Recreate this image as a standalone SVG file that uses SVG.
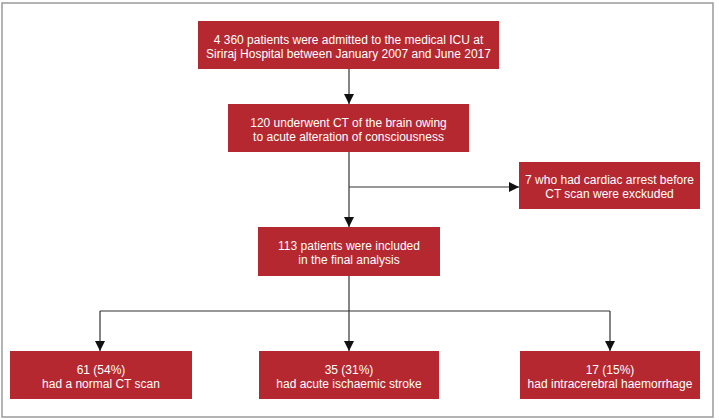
<svg xmlns="http://www.w3.org/2000/svg" width="719" height="420" viewBox="0 0 719 420">
<style>
.box{fill:#B5282F;}
.t{font-family:"Liberation Sans",Arial,sans-serif;font-size:12px;fill:#ffffff;text-anchor:middle;}
.c{stroke:#333333;stroke-width:1.2;fill:none;}
</style>
<defs>
<marker id="ah" markerWidth="10" markerHeight="10" refX="10" refY="5" orient="auto" markerUnits="userSpaceOnUse">
<path d="M0,0 L10,5 L0,10 Z" fill="#111111"/>
</marker>
</defs>
<rect x="2" y="3" width="711" height="414" fill="#ffffff" stroke="#9a9a9a" stroke-width="1.5"/>
<g id="connectors">
<line class="c" x1="349" y1="69" x2="349" y2="104" marker-end="url(#ah)"/>
<line class="c" x1="349" y1="152" x2="349" y2="227" marker-end="url(#ah)"/>
<line class="c" x1="349" y1="187" x2="519" y2="187" marker-end="url(#ah)"/>
<line class="c" x1="349" y1="276" x2="349" y2="311"/>
<line class="c" x1="100" y1="311" x2="610" y2="311"/>
<line class="c" x1="100" y1="311" x2="100" y2="351" marker-end="url(#ah)"/>
<line class="c" x1="349" y1="311" x2="349" y2="351" marker-end="url(#ah)"/>
<line class="c" x1="610" y1="311" x2="610" y2="351" marker-end="url(#ah)"/>
</g>
<g id="admitted">
<rect class="box" x="198" y="21" width="301" height="48"/>
<text class="t" x="348.5" y="43.5">4 360 patients were admitted to the medical ICU at</text>
<text class="t" x="348.5" y="57.5">Siriraj Hospital between January 2007 and June 2017</text>
</g>
<g id="ct">
<rect class="box" x="228" y="104" width="241" height="48"/>
<text class="t" x="348.5" y="126.5">120 underwent CT of the brain owing</text>
<text class="t" x="348.5" y="140.5">to acute alteration of consciousness</text>
</g>
<g id="excluded">
<rect class="box" x="519" y="162" width="181" height="47"/>
<text class="t" x="609.5" y="184">7 who had cardiac arrest before</text>
<text class="t" x="609.5" y="198">CT scan were exckuded</text>
</g>
<g id="included">
<rect class="box" x="258" y="227" width="182" height="49"/>
<text class="t" x="349" y="250">113 patients were included</text>
<text class="t" x="349" y="264">in the final analysis</text>
</g>
<g id="normal">
<rect class="box" x="10" y="351" width="182" height="48"/>
<text class="t" x="101" y="373.5">61 (54%)</text>
<text class="t" x="101" y="387.5">had a normal CT scan</text>
</g>
<g id="stroke">
<rect class="box" x="259" y="351" width="180" height="48"/>
<text class="t" x="349" y="373.5">35 (31%)</text>
<text class="t" x="349" y="387.5">had acute ischaemic stroke</text>
</g>
<g id="haemorrhage">
<rect class="box" x="520" y="351" width="180" height="48"/>
<text class="t" x="610" y="373.5">17 (15%)</text>
<text class="t" x="610" y="387.5">had intracerebral haemorrhage</text>
</g>
</svg>
